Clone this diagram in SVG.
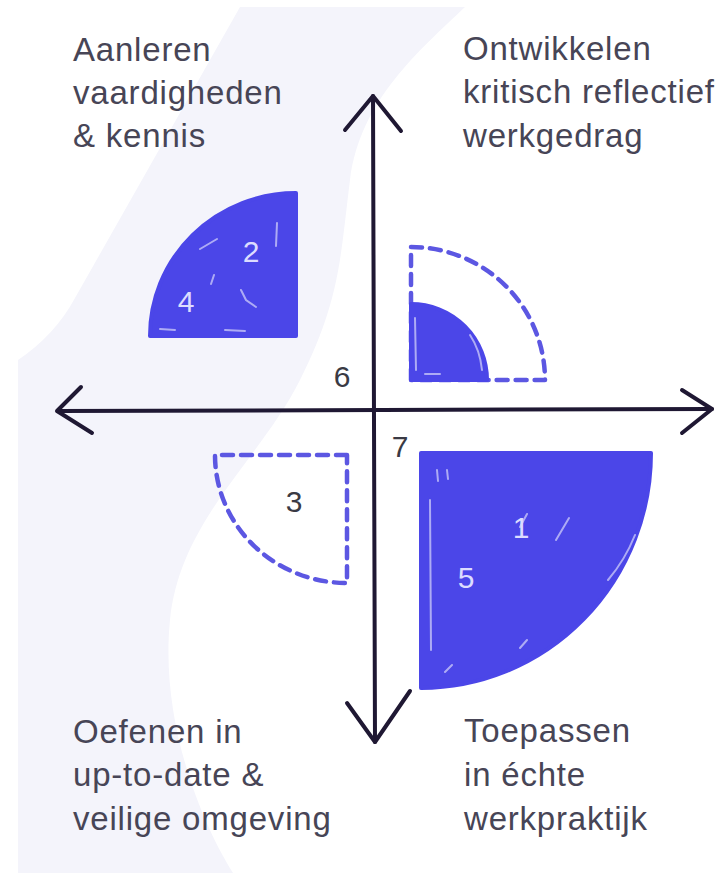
<svg xmlns="http://www.w3.org/2000/svg" width="718" height="879" viewBox="0 0 718 879">
  <defs>
    <style>
      .label { font-family: "Liberation Sans", Arial, sans-serif; font-size: 33px; fill: #474556; letter-spacing: 0.8px; }
      .num { font-family: "Liberation Sans", Arial, sans-serif; font-size: 30px; fill: #3a3a44; text-anchor: middle; }
      .numw { font-family: "Liberation Sans", Arial, sans-serif; font-size: 30px; fill: #dcdcff; text-anchor: middle; }
      .fill { fill: #4b46e8; stroke: #4b46e8; stroke-width: 4; stroke-linejoin: round; }
      .dash { fill: none; stroke: #5c57e2; stroke-width: 4.5; stroke-dasharray: 11 8; stroke-linecap: round; stroke-linejoin: round; }
      .axis { fill: none; stroke: #1f1833; stroke-width: 4; stroke-linecap: round; stroke-linejoin: round; }
      .scr { fill: none; stroke: #ffffff; stroke-opacity: 0.55; stroke-width: 2; stroke-linecap: round; }
    </style>
  </defs>

  <rect x="0" y="0" width="718" height="879" fill="#ffffff"/>
  <path id="background-band" d="M240,7 L75,298 Q55,335 18,360 L18,873 L233,873 C200,820 160,720 170,620 C180,520 260,460 300,380 C340,300 340,260 350,180 C360,100 420,50 465,7 Z" fill="#f4f4fb"/>

  <g id="connectors">
    <path class="axis" d="M58,411 L712,409"/>
    <path class="axis" d="M81,387 L57,411 L92,433"/>
    <path class="axis" d="M682,390 L712,409 L682,433"/>
    <path class="axis" d="M373,96 L375,742"/>
    <path class="axis" d="M345,130 L373,96 L401,131"/>
    <path class="axis" d="M347,703 L375,742 L410,691"/>
  </g>

  <g id="q-top-left">
    <path class="fill" d="M150,336 L296,336 L296,193 A146,143 0 0 0 150,336 Z"/>
    <path class="scr" d="M277,223 L276,246 M200,249 L217,239 M211,284 L214,275 M241,290 L246,300 L256,307 M160,329 L175,330 M225,330 L245,331"/>
    <text class="numw" x="251" y="262">2</text>
    <text class="numw" x="186" y="312">4</text>
  </g>

  <g id="q-top-right">
    <path class="dash" d="M411,380 L411,247 A134,133 0 0 1 545,380 Z"/>
    <path class="fill" d="M411,380 L411,304 A76,76 0 0 1 487,380 Z"/>
    <path class="scr" d="M415,318 L416,370 M470,335 Q480,350 482,370 M425,374 L440,374"/>
  </g>

  <g id="q-bottom-left">
    <path class="dash" d="M347,455 L215,455 A132,128 0 0 0 347,583 Z"/>
    <text class="num" x="294" y="512">3</text>
  </g>

  <g id="q-bottom-right">
    <path class="fill" d="M421,453 L651,453 A230,235 0 0 1 421,688 Z"/>
    <path class="scr" d="M437,470 L438,481 M447,470 L448,479 M520,527 L527,514 M556,540 L569,518 M445,672 L452,665 M608,580 Q625,560 635,535 M520,648 L527,640 M430,500 L431,650"/>
    <text class="numw" x="521" y="538">1</text>
    <text class="numw" x="466" y="588">5</text>
  </g>

  <g id="label-6"><text class="num" x="342" y="387">6</text></g>
  <g id="label-7"><text class="num" x="400" y="457">7</text></g>

  <g id="text-top-left">
    <text class="label" x="73" y="61">Aanleren</text>
    <text class="label" x="73" y="104">vaardigheden</text>
    <text class="label" x="73" y="147">&amp; kennis</text>
  </g>
  <g id="text-top-right">
    <text class="label" x="463" y="60">Ontwikkelen</text>
    <text class="label" x="463" y="103">kritisch reflectief</text>
    <text class="label" x="463" y="147">werkgedrag</text>
  </g>
  <g id="text-bottom-left">
    <text class="label" x="73" y="743">Oefenen in</text>
    <text class="label" x="73" y="786">up-to-date &amp;</text>
    <text class="label" x="73" y="830">veilige omgeving</text>
  </g>
  <g id="text-bottom-right">
    <text class="label" x="464" y="742">Toepassen</text>
    <text class="label" x="464" y="786">in échte</text>
    <text class="label" x="464" y="830">werkpraktijk</text>
  </g>
</svg>
